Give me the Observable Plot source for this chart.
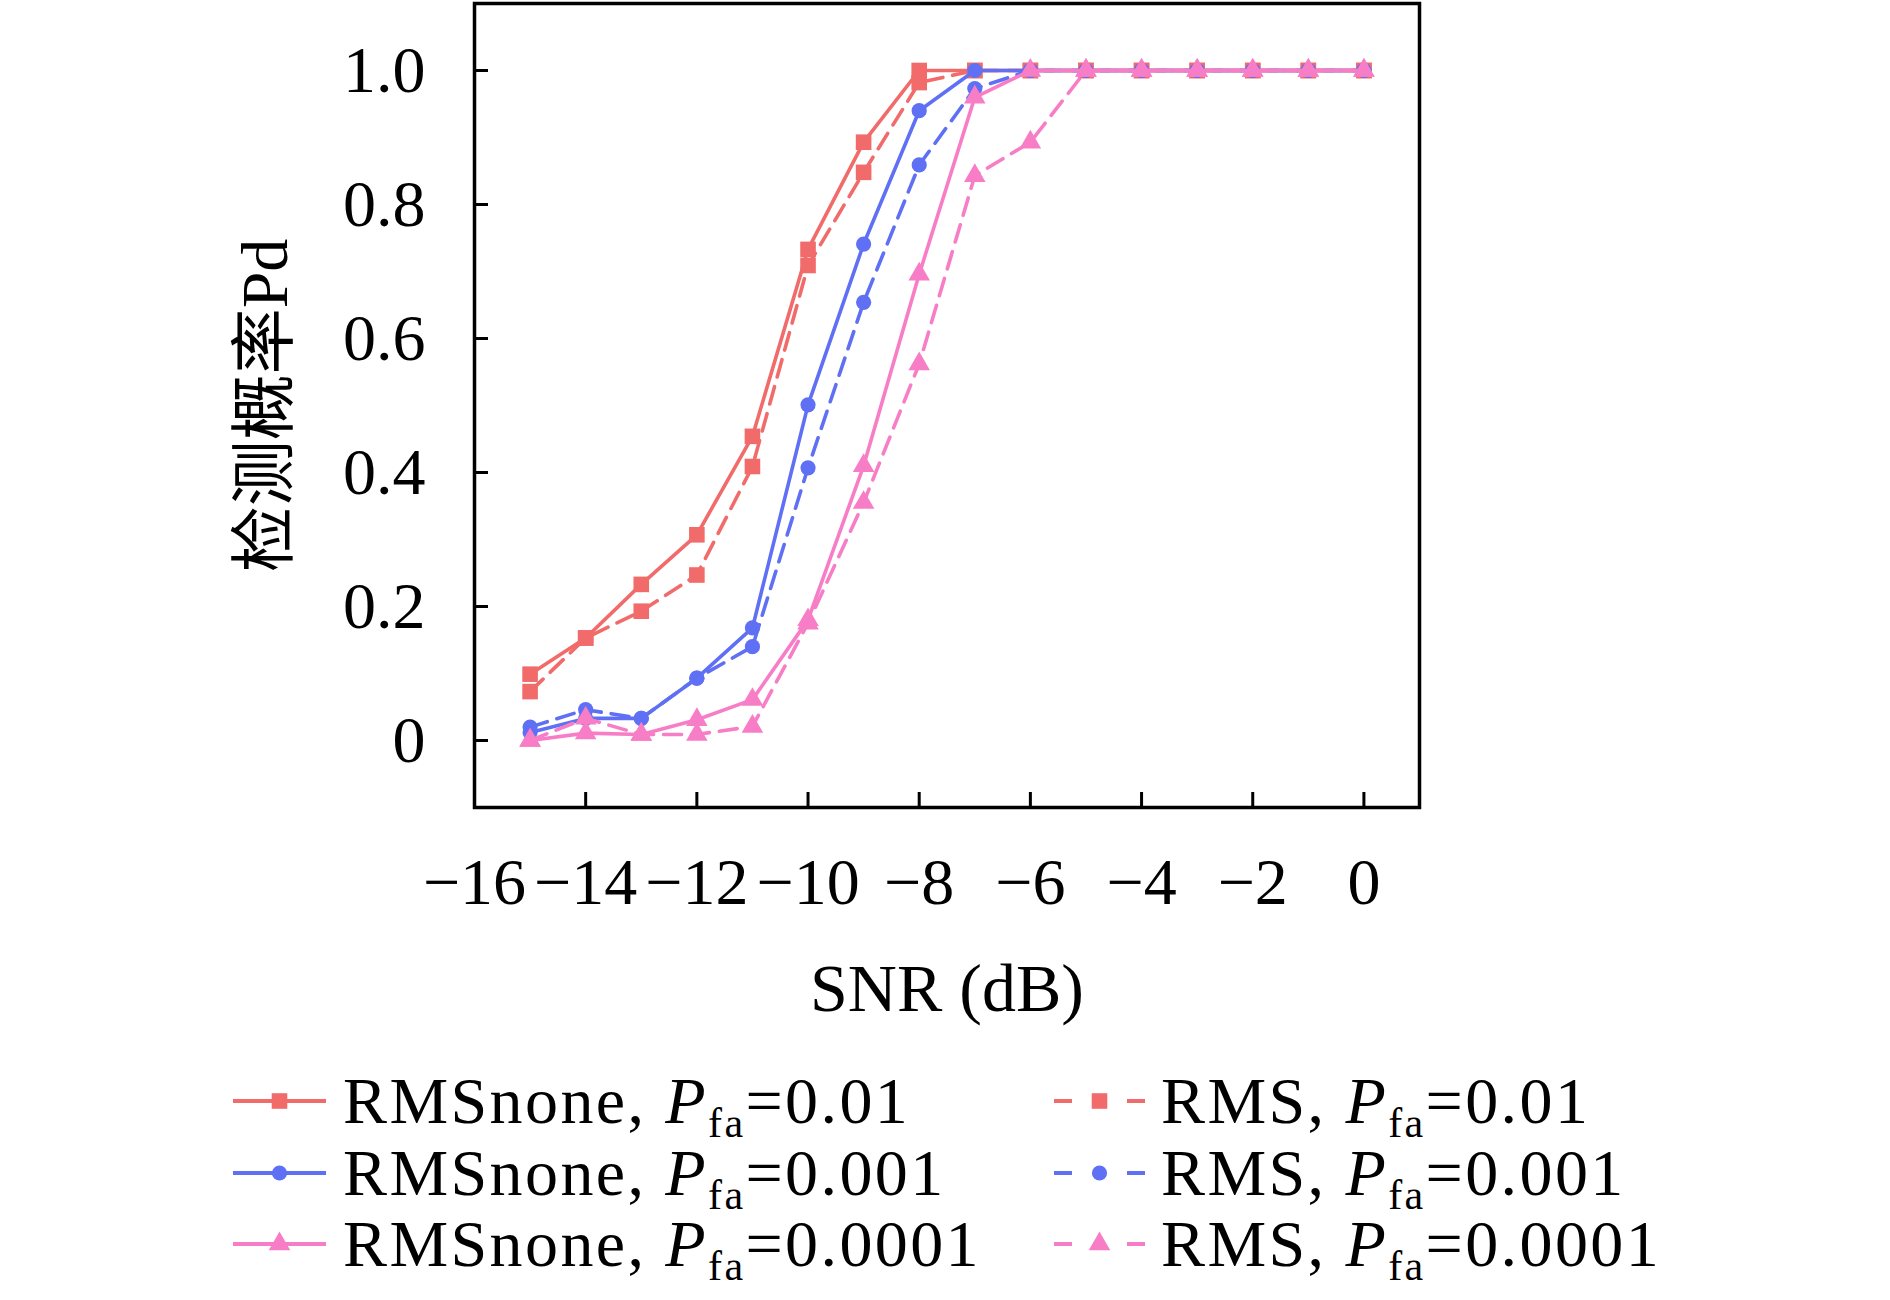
<!DOCTYPE html>
<html>
<head>
<meta charset="utf-8">
<script src="https://cdn.jsdelivr.net/npm/d3@7"></script>
<script src="https://cdn.jsdelivr.net/npm/@observablehq/plot@0.6"></script>
<style>
  html, body { margin: 0; padding: 0; background: #ffffff; }
  #chart { width: 1890px; }
  #chart svg { display: block; }
</style>
</head>
<body>
<div id="chart"></div>
<script>
// ---- data ----
const snr = [-15, -14, -13, -12, -11, -10, -9, -8, -7, -6, -5, -4, -3, -2, -1, 0];
const rmsnone_p01   = [0.099, 0.153, 0.233, 0.307, 0.454, 0.733, 0.893, 1.000, 1, 1, 1, 1, 1, 1, 1, 1];
const rms_p01       = [0.073, 0.153, 0.193, 0.247, 0.409, 0.709, 0.848, 0.982, 1, 1, 1, 1, 1, 1, 1, 1];
const rmsnone_p001  = [0.012, 0.033, 0.033, 0.093, 0.168, 0.501, 0.741, 0.940, 1, 1, 1, 1, 1, 1, 1, 1];
const rms_p001      = [0.020, 0.046, 0.033, 0.093, 0.140, 0.407, 0.654, 0.859, 0.973, 1, 1, 1, 1, 1, 1, 1];
const rmsnone_p0001 = [0.000, 0.011, 0.009, 0.031, 0.061, 0.180, 0.410, 0.696, 0.960, 1, 1, 1, 1, 1, 1, 1];
const rms_p0001     = [0.000, 0.033, 0.009, 0.009, 0.021, 0.175, 0.355, 0.562, 0.843, 0.893, 1, 1, 1, 1, 1, 1];

const methods = ["RMSnone", "RMS"];
const pfaLabels = ["0.01", "0.001", "0.0001"];
const xTicks = [-16, -14, -12, -10, -8, -6, -4, -2, 0];
const yTicks = [0, 0.2, 0.4, 0.6, 0.8, 1.0];
const xLabel = "SNR (dB)";
const yLabel = "检测概率Pd";

// ---- styles ----
const colors = ["#F26B6B", "#5F70F4", "#F77EC6"];
const symbols = ["square", "circle", "triangle"];
const radii = [8.8, 7.6, 8.0];
const DASH = "18,10";
const serif = "'Liberation Serif', 'Noto Sans CJK SC', serif";

const seriesValues = [
  [rmsnone_p01, rmsnone_p001, rmsnone_p0001],
  [rms_p01, rms_p001, rms_p0001]
];

const series = [];
methods.forEach((m, mi) => {
  pfaLabels.forEach((p, pi) => {
    series.push({
      method: m, pfa: p, level: pi, dashed: mi === 1,
      rows: snr.map((x, i) => ({x, y: seriesValues[mi][pi][i]}))
    });
  });
});
// draw order: by level, solid then dashed
const drawOrder = [0, 3, 1, 4, 2, 5].map(i => series[i]);

const fmtX = d => d === 0 ? "0" : (d < 0 ? "\u2212" + Math.abs(d) : String(d));
const fmtY = d => d === 0 ? "0" : d.toFixed(1);

const W = 1890, H = 1040;
const mL = 474, mR = 471, mT = 3, mB = 233;
const innerH = H - mT - mB;

const marks = [
  Plot.axisX(xTicks, {tickSize: 0, tickPadding: 50, tickFormat: fmtX, fontSize: 66, label: null}),
  Plot.axisY(yTicks, {tickSize: 0, tickPadding: 49, tickFormat: fmtY, fontSize: 66, label: null}),
  Plot.tickX(xTicks, {x: d => d, insetTop: innerH - 15, stroke: "black", strokeWidth: 3}),
  Plot.tickY(yTicks, {y: d => d, insetRight: (W - mL - mR) - 14, stroke: "black", strokeWidth: 3})
];
for (const s of drawOrder) {
  marks.push(Plot.line(s.rows, {
    x: "x", y: "y", stroke: colors[s.level], strokeWidth: 3.6,
    strokeDasharray: s.dashed ? DASH : null, strokeLinejoin: "round"
  }));
  marks.push(Plot.dot(s.rows, {
    x: "x", y: "y", fill: colors[s.level], stroke: "none",
    symbol: () => symbols[s.level], r: radii[s.level]
  }));
}
marks.push(Plot.frame({stroke: "black", strokeWidth: 3.5}));
marks.push(Plot.text([xLabel], {text: d => d, frameAnchor: "bottom", textAnchor: "middle", dy: 203, fontSize: 68, fontFamily: serif}));
marks.push(Plot.text([yLabel], {text: d => d, frameAnchor: "left", textAnchor: "middle", dx: -209, rotate: -90, fontSize: 66, fontFamily: serif}));

const plot = Plot.plot({
  width: W, height: H,
  marginLeft: mL, marginRight: mR, marginTop: mT, marginBottom: mB,
  x: {domain: [-16, 1]},
  y: {domain: [-0.1, 1.1]},
  style: {fontFamily: serif, fontSize: "66px", background: "white", color: "black", overflow: "visible"},
  marks
});
document.getElementById("chart").appendChild(plot);

// ---- legend (below the plot) ----
const LH = 260;
const leg = d3.create("svg").attr("width", W).attr("height", LH)
  .style("display", "block").style("font-family", serif);
const colX = [{x0: 233, x1: 326, tx: 343}, {x0: 1054, x1: 1145, tx: 1161}];
const rowY = [61, 133, 204];
series.forEach(s => {
  const c = colX[s.dashed ? 1 : 0];
  const cy = rowY[s.level];
  const col = colors[s.level];
  const g = leg.append("g");
  if (s.dashed) {
    g.append("line").attr("x1", c.x0).attr("x2", c.x0 + 18).attr("y1", cy).attr("y2", cy)
      .attr("stroke", col).attr("stroke-width", 4);
    g.append("line").attr("x1", c.x1 - 18).attr("x2", c.x1).attr("y1", cy).attr("y2", cy)
      .attr("stroke", col).attr("stroke-width", 4);
  } else {
    g.append("line").attr("x1", c.x0).attr("x2", c.x1).attr("y1", cy).attr("y2", cy)
      .attr("stroke", col).attr("stroke-width", 4);
  }
  const sym = {square: d3.symbolSquare, circle: d3.symbolCircle, triangle: d3.symbolTriangle}[symbols[s.level]];
  const r = radii[s.level];
  g.append("path").attr("d", d3.symbol(sym, Math.PI * r * r)())
    .attr("transform", `translate(${(c.x0 + c.x1) / 2},${cy})`).attr("fill", col);
  const t = g.append("text").attr("x", c.tx).attr("y", cy + 22).attr("font-size", 66)
    .attr("letter-spacing", 2.4).attr("fill", "black");
  t.append("tspan").text(s.method + ",\u00A0");
  t.append("tspan").attr("font-style", "italic").text("P");
  t.append("tspan").attr("font-size", 42).attr("dy", 14).text("fa");
  t.append("tspan").attr("dy", -14).text("=" + s.pfa);
});
document.getElementById("chart").appendChild(leg.node());
</script>
</body>
</html>
